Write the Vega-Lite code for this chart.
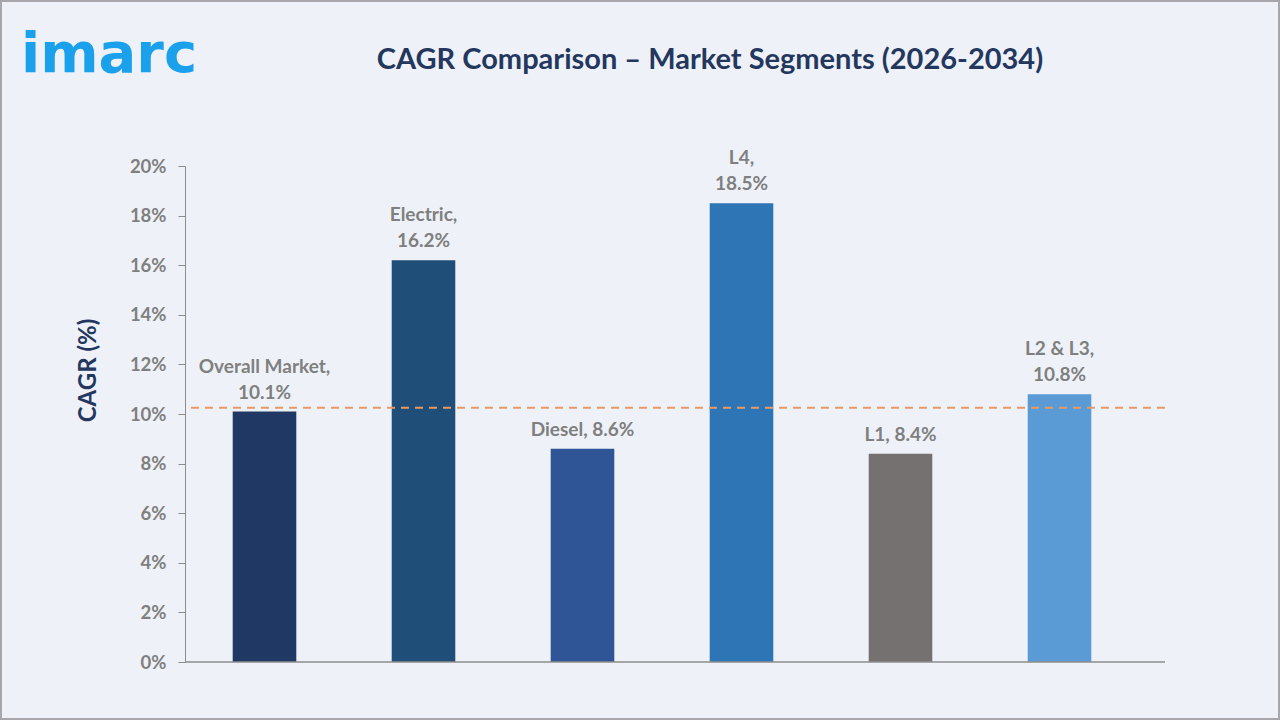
{
  "$schema": "https://vega.github.io/schema/vega-lite/v6.json",
  "width": 980,
  "height": 496,
  "autosize": {"type": "none"},
  "padding": {"left": 185, "top": 166, "right": 115, "bottom": 58},
  "background": "#eef2f8",
  "config": {
    "view": {"stroke": null},
    "font": "Lato"
  },
  "title": {
    "text": "CAGR Comparison – Market Segments (2026-2034)",
    "fontSize": 29,
    "font": "Lato",
    "fontWeight": "bold",
    "color": "#24375e",
    "anchor": "middle",
    "frame": "group",
    "dx": 35,
    "offset": -75
  },
  "datasets": {
    "segments": [
      {"segment": "Overall Market", "cagr": 10.1},
      {"segment": "Electric", "cagr": 16.2},
      {"segment": "Diesel", "cagr": 8.6},
      {"segment": "L4", "cagr": 18.5},
      {"segment": "L1", "cagr": 8.4},
      {"segment": "L2 & L3", "cagr": 10.8}
    ],
    "reference": [{"cagr": 10.25}]
  },
  "data": {"name": "segments"},
  "transform": [
    {"calculate": "indexof(['Diesel', 'L1'], datum.segment) < 0", "as": "wrapped"}
  ],
  "layer": [
    {
      "data": {"values": [{}]},
      "mark": {"type": "rect", "fill": null, "stroke": "#a7a7ab", "strokeWidth": 2},
      "encoding": {
        "x": {"value": -184},
        "x2": {"value": 1094},
        "y": {"value": -165},
        "y2": {"value": 553}
      }
    },
    {
      "data": {"values": [{"brand": "imarc"}]},
      "mark": {"type": "text", "align": "left", "baseline": "alphabetic", "fontSize": 56, "fontWeight": "bold", "font": "DejaVu Sans", "color": "#1ba1ec"},
      "encoding": {
        "text": {"field": "brand"},
        "x": {"value": -164},
        "y": {"value": -94}
      }
    },
    {
      "mark": {"type": "bar"},
      "encoding": {
        "x": {
          "field": "segment",
          "type": "nominal",
          "sort": null,
          "axis": null,
          "scale": {"range": [0, 954], "paddingInner": 0.6, "paddingOuter": 0.3}
        },
        "y": {
          "field": "cagr",
          "type": "quantitative",
          "scale": {"domain": [0, 20], "nice": false},
          "axis": {
            "title": "CAGR (%)",
            "values": [0, 2, 4, 6, 8, 10, 12, 14, 16, 18, 20],
            "labelExpr": "datum.value + '%'",
            "grid": false,
            "domainColor": "#8c8c8c",
            "tickColor": "#8c8c8c",
            "tickSize": 7,
            "labelPadding": 12,
            "labelColor": "#7f7f7f",
            "labelFont": "Lato",
            "labelFontSize": 18.5,
            "labelFontWeight": "bold",
            "titleColor": "#24375e",
            "titleFont": "Lato",
            "titleFontSize": 24,
            "titleFontWeight": "bold",
            "titleAngle": -90,
            "titleAlign": "center",
            "titleBaseline": "middle",
            "titleX": -97,
            "titleY": 204
          }
        },
        "color": {
          "field": "segment",
          "type": "nominal",
          "legend": null,
          "scale": {
            "domain": ["Overall Market", "Electric", "Diesel", "L4", "L1", "L2 & L3"],
            "range": ["#203864", "#1f4e79", "#2f5597", "#2e75b6", "#767171", "#5b9bd5"]
          }
        }
      }
    },
    {
      "transform": [
        {"calculate": "datum.wrapped ? format(datum.cagr, '.1f') + '%' : datum.segment + ', ' + format(datum.cagr, '.1f') + '%'", "as": "label"}
      ],
      "mark": {"type": "text", "baseline": "bottom", "align": "center", "dy": -9, "fontSize": 19, "fontWeight": "bold", "font": "Lato", "color": "#7f7f7f"},
      "encoding": {
        "x": {"field": "segment", "type": "nominal", "sort": null},
        "y": {"field": "cagr", "type": "quantitative"},
        "text": {"field": "label"}
      }
    },
    {
      "transform": [
        {"filter": "datum.wrapped"},
        {"calculate": "datum.segment + ','", "as": "label"}
      ],
      "mark": {"type": "text", "baseline": "bottom", "align": "center", "dy": -35, "fontSize": 19, "fontWeight": "bold", "font": "Lato", "color": "#7f7f7f"},
      "encoding": {
        "x": {"field": "segment", "type": "nominal", "sort": null},
        "y": {"field": "cagr", "type": "quantitative"},
        "text": {"field": "label"}
      }
    },
    {
      "data": {"name": "reference"},
      "mark": {"type": "rule", "color": "#e59a66", "strokeWidth": 2, "strokeDash": [8, 6]},
      "encoding": {
        "y": {"field": "cagr", "type": "quantitative"}
      }
    },
    {
      "data": {"values": [{"base": 0}]},
      "mark": {"type": "rule", "color": "#8c8c8c", "strokeWidth": 1.5},
      "encoding": {
        "y": {"field": "base", "type": "quantitative"}
      }
    }
  ]
}
